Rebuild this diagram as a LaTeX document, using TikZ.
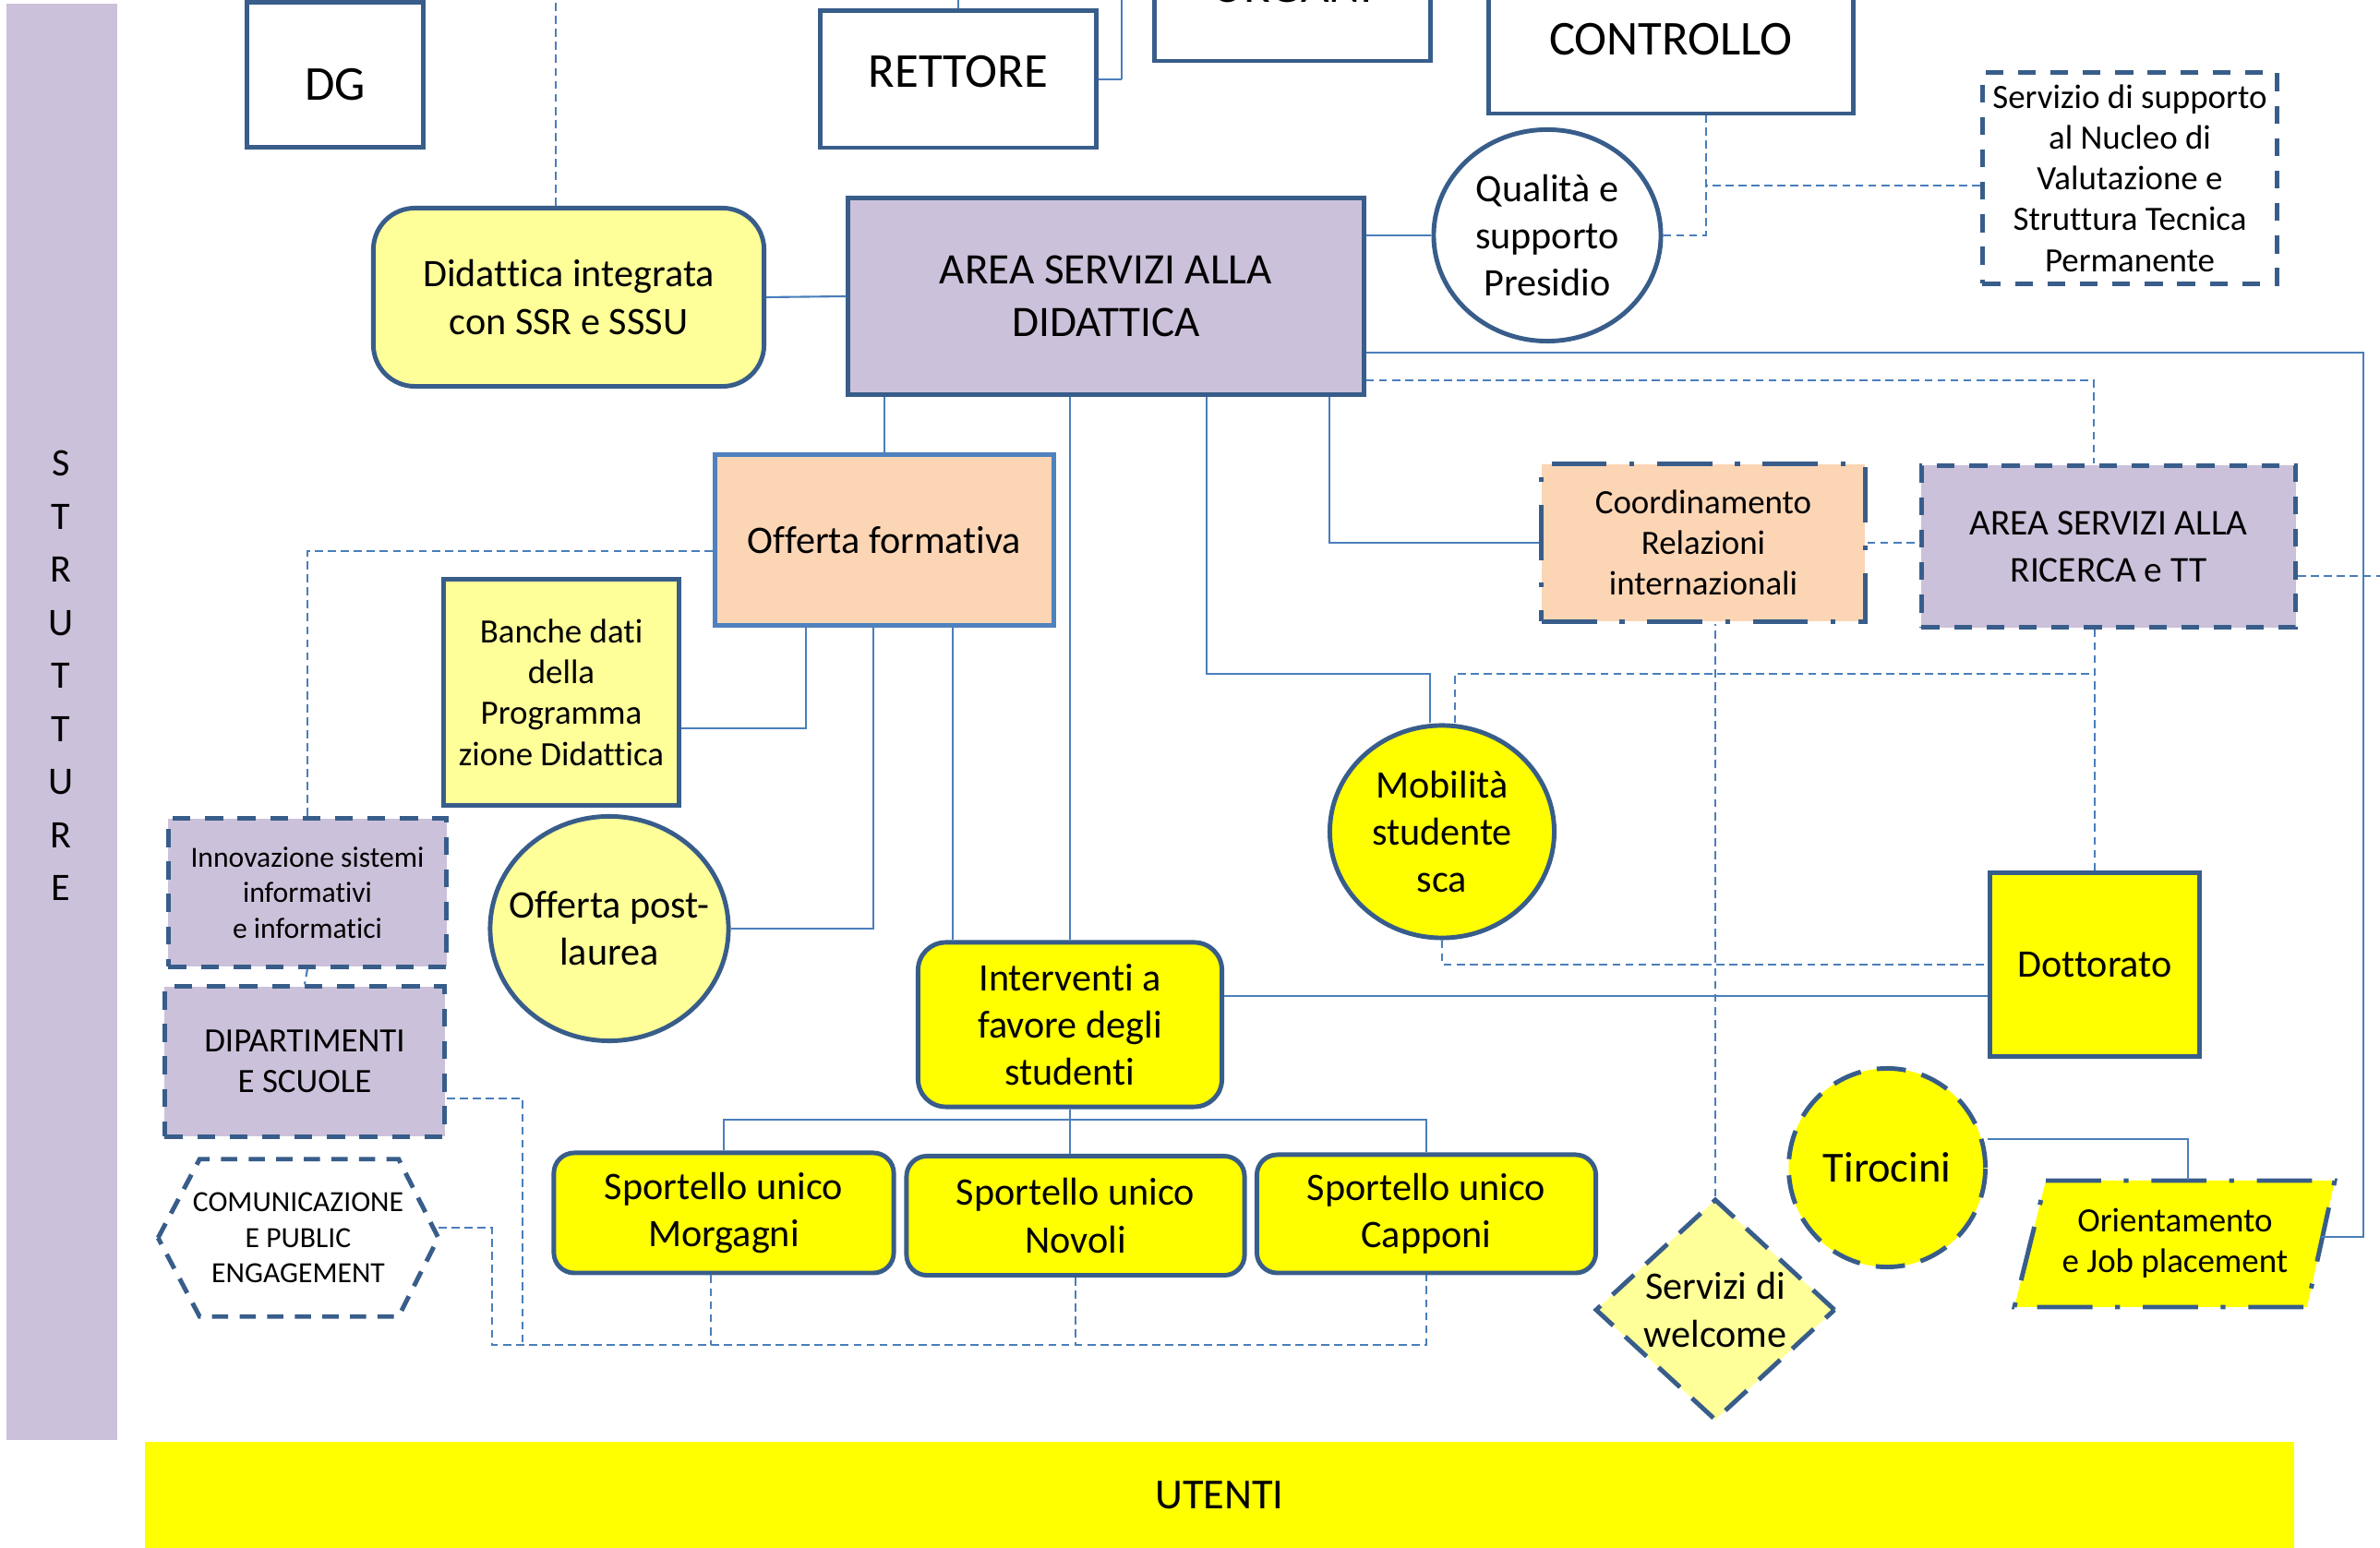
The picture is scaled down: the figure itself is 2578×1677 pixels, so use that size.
\documentclass[tikz,border=0pt]{standalone}
\usepackage{fontspec}
\setmainfont{Carlito}[Ligatures=NoCommon]
\usepackage{xcolor}
\usepackage{tikz}
\usetikzlibrary{shapes.geometric}

\definecolor{BorderBlue}{RGB}{56,93,138}
\definecolor{LinkBlue}{RGB}{74,126,187}
\definecolor{LightBlue}{RGB}{79,129,189}
\definecolor{Lavender}{RGB}{204,193,218}
\definecolor{Peach}{RGB}{252,213,181}
\definecolor{PaleYellow}{RGB}{255,255,153}
\definecolor{FullYellow}{RGB}{255,255,0}

\begin{document}
\begin{tikzpicture}[x=0.01cm,y=-0.01cm]
                \tikzset{Box/.style={%
                    shape=rectangle,%
                    draw=BorderBlue,%
                    line width=1.4pt,%
                    inner sep=0pt,%
                    align=center,%
                }}
                \tikzset{RoundBox/.style={Box, rounded corners=0.3cm}}
                \tikzset{Oval/.style={Box, shape=ellipse}}
                \tikzset{DashBox/.style={Box, dash pattern=on 5.5pt off 4.5pt}}
                \tikzset{DotDashBox/.style={Box, dash pattern=on 17pt off 7pt on 1.5pt off 7pt}}
                \tikzset{LongDash/.style={dash pattern=on 9pt off 5pt}}
                \tikzset{Link/.style={draw=LinkBlue, line width=0.6pt}}
                \tikzset{DashLink/.style={Link, dash pattern=on 2.5pt off 1.5pt}}
                \tikzset{TopFont/.style={font=\fontsize{15}{18}\selectfont}}
                \tikzset{AreaFont/.style={font=\fontsize{13.4}{16.4}\selectfont}}
                \tikzset{MainFont/.style={font=\fontsize{12}{14.6}\selectfont}}
                \tikzset{MidFont/.style={font=\fontsize{11.2}{14.5}\selectfont}}
                \tikzset{SmallFont/.style={font=\fontsize{10.5}{12.6}\selectfont}}
                \tikzset{TinyFont/.style={font=\fontsize{9}{11}\selectfont}}

                \useasboundingbox (0,0) rectangle (2578,1677);
                \clip (0,0) rectangle (2578,1677);

                % bande laterali
                \node[fill=Lavender, inner sep=0pt, minimum width=1.2cm, minimum height=15.55cm] (strutture) at (67,782) {};
                \node[align=center, inner sep=0pt, font=\fontsize{12}{16.35}\selectfont] (strutturelbl) at (66,732) {S\\T\\R\\U\\T\\T\\U\\R\\E};
                \node[fill=FullYellow, inner sep=0pt, minimum width=23.26cm, minimum height=1.16cm, font=\fontsize{13.2}{16}\selectfont] (utenti) at (1321,1620) {UTENTI};

                % organi di vertice
                \node[Box, fill=white, TopFont, minimum width=1.91cm, minimum height=1.57cm] (dg) at (363,81) {\raisebox{-0.27cm}[0pt][0pt]{DG}};
                \node[Box, fill=white, TopFont, minimum width=2.98cm, minimum height=1.48cm] (rettore) at (1038,86) {\raisebox{-0.09cm}[0pt][0pt]{RETTORE}};
                \node[Box, fill=white, TopFont, minimum width=2.98cm, minimum height=1.6cm] (organi) at (1400,-14) {ORGANI};
                \node[Box, fill=white, TopFont, minimum width=3.94cm, minimum height=1.6cm] (controllo) at (1810,43) {CONTROLLO};
                \node[Oval, fill=white, MainFont, minimum width=2.46cm, minimum height=2.29cm] (qualita) at (1676,255) {Qualità e\\supporto\\Presidio};
                \node[DashBox, fill=white, SmallFont, minimum width=3.19cm, minimum height=2.28cm] (nucleo) at (2307,193) {Servizio di supporto\\al Nucleo di\\Valutazione e\\Struttura Tecnica\\Permanente};

                % area didattica
                \node[RoundBox, rounded corners=0.45cm, fill=PaleYellow, MainFont, minimum width=4.23cm, minimum height=1.93cm] (didint) at (616,322) {Didattica integrata\\con SSR e SSSU};
                \node[Box, fill=Lavender, AreaFont, minimum width=5.58cm, minimum height=2.13cm] (area) at (1198,321) {AREA SERVIZI ALLA\\DIDATTICA};
                \node[Box, draw=LightBlue, fill=Peach, MainFont, minimum width=3.67cm, minimum height=1.84cm] (offerta) at (958,585) {Offerta formativa};
                \node[Box, fill=PaleYellow, SmallFont, minimum width=2.54cm, minimum height=2.45cm] (banche) at (608,750) {Banche dati\\della\\Programma\\zione Didattica};
                \node[DashBox, fill=Lavender, TinyFont, minimum width=3.01cm, minimum height=1.6cm] (innov) at (333,967) {Innovazione sistemi\\informativi\\e informatici};
                \node[Oval, fill=PaleYellow, MainFont, inner xsep=-0.35cm, minimum width=2.58cm, minimum height=2.43cm] (postlaurea) at (660,1006) {Offerta post-\\laurea};
                \node[DashBox, fill=Lavender, SmallFont, minimum width=3.03cm, minimum height=1.62cm] (dip) at (330,1150) {DIPARTIMENTI\\E SCUOLE};
                \node[TinyFont, align=center, inner sep=0pt, minimum width=3.02cm, minimum height=1.69cm] (comunic) at (323,1341) {COMUNICAZIONE\\E PUBLIC\\ENGAGEMENT};
                \draw[BorderBlue, line width=1.4pt, dash pattern=on 5pt off 3.5pt] (comunic.west) -- ([xshift=0.45cm]comunic.north west) -- ([xshift=-0.43cm]comunic.north east) -- (comunic.east) -- ([xshift=-0.43cm]comunic.south east) -- ([xshift=0.45cm]comunic.south west) -- cycle;

                % studenti
                \node[RoundBox, fill=FullYellow, MainFont, minimum width=3.29cm, minimum height=1.78cm] (interv) at (1159,1110) {Interventi a\\favore degli\\studenti};
                \node[RoundBox, rounded corners=0.22cm, fill=FullYellow, MainFont, minimum width=3.68cm, minimum height=1.3cm] (morgagni) at (784,1314) {Sportello unico\\Morgagni};
                \node[RoundBox, rounded corners=0.22cm, fill=FullYellow, MainFont, minimum width=3.66cm, minimum height=1.29cm] (novoli) at (1165,1317) {Sportello unico\\Novoli};
                \node[RoundBox, rounded corners=0.22cm, fill=FullYellow, MainFont, minimum width=3.67cm, minimum height=1.28cm] (capponi) at (1545,1315) {Sportello unico\\Capponi};

                % relazioni e ricerca
                \node[DotDashBox, fill=Peach, SmallFont, minimum width=3.5cm, minimum height=1.7cm] (coord) at (1845,588) {Coordinamento\\Relazioni\\internazionali};
                \node[DashBox, fill=Lavender, MidFont, minimum width=4.05cm, minimum height=1.75cm] (ricerca) at (2284,592) {AREA SERVIZI ALLA\\RICERCA e TT};
                \node[Oval, fill=FullYellow, MainFont, minimum width=2.43cm, minimum height=2.3cm] (mobilita) at (1562,901) {Mobilità\\studente\\sca};
                \node[Box, fill=FullYellow, MainFont, minimum width=2.27cm, minimum height=1.98cm] (dottorato) at (2269,1045) {Dottorato};
                \node[Oval, LongDash, fill=FullYellow, font=\fontsize{13.2}{16}\selectfont, minimum width=2.13cm, minimum height=2.15cm] (tirocini) at (2044,1265) {Tirocini};
                \node[Box, shape=diamond, LongDash, aspect=1.08, fill=PaleYellow, MainFont, minimum width=2.6cm, minimum height=2.4cm] (welcome) at (1858,1419) {Servizi di\\welcome};
                \filldraw[fill=FullYellow, draw=BorderBlue, line width=1.4pt, dash pattern=on 17pt off 7pt on 1.5pt off 7pt] (2216,1279) -- (2529,1279) -- (2499,1416) -- (2182,1416) -- cycle;
                \node[SmallFont, align=center, inner sep=0pt, minimum width=3.15cm, minimum height=1.37cm] (orient) at (2356,1347) {Orientamento\\e Job placement};

                % collegamenti continui
                \path[Link] (rettore.north) edge (rettore.north |- 0,0);
                \path[Link] (rettore.east) edge (1215,86) (1215,86) edge (1215,0);
                \path[Link] (didint.east) edge (area.west);
                \path[Link] (area.east |- qualita.west) edge (qualita.west);
                \draw[Link] (area.east |- 0,382) -| (2560,1340) -- (orient.east |- 0,1340);
                \path[Link] (offerta.north) edge (offerta.north |- area.south);
                \path[Link] (interv.north) edge (interv.north |- area.south);
                \draw[Link] (area.south -| 1307,0) |- (1549,730) -- (mobilita.north -| 1549,0);
                \draw[Link] (area.south -| 1440,0) |- (coord.west);
                \draw[Link] (offerta.south -| 873,0) |- ([yshift=-0.39cm]banche.east);
                \draw[Link] (offerta.south -| 946,0) |- (postlaurea.east);
                \path[Link] (offerta.south -| 1032,0) edge (interv.north -| 1032,0);
                \path[Link] ([yshift=0.31cm]interv.east) edge ([yshift=0.31cm]interv.east -| dottorato.west);
                \path[Link] (interv.south) edge (interv.south |- novoli.north);
                \draw[Link] (morgagni.north) |- (interv.south |- 0,1213) -| (capponi.north);
                \draw[Link] ([yshift=0.31cm]tirocini.east) -| ([xshift=0.14cm]orient.north);

                % collegamenti tratteggiati
                \path[DashLink] ([xshift=-0.14cm]didint.north) edge ([xshift=-0.14cm]didint.north |- 0,0);
                \draw[DashLink] (qualita.east) -| ([xshift=0.38cm]controllo.south);
                \draw[DashLink] (nucleo.west |- 0,201) -- (1848,201);
                \draw[DashLink] (area.east |- 0,412) -| ([xshift=-0.16cm]ricerca.north);
                \path[DashLink] (coord.east) edge (coord.east -| ricerca.west);
                \path[DashLink] ([yshift=-0.32cm]ricerca.east) edge ++(120,0);
                \draw[DashLink] ([yshift=-0.12cm]offerta.west) -| (innov.north);
                \path[DashLink] (innov.south) edge (dip.north);
                \draw[DashLink] ([yshift=-0.4cm]dip.east) -| (566,1457);
                \draw[DashLink] ([yshift=0.11cm]comunic.east) -| (533,1457) -- (capponi.south |- 0,1457) -- (capponi.south);
                \path[DashLink] ([xshift=-0.14cm]morgagni.south) edge ([xshift=-0.14cm]morgagni.south |- 0,1457);
                \path[DashLink] (novoli.south) edge (novoli.south |- 0,1457);
                \path[DashLink] (welcome.north) edge (welcome.north |- coord.south);
                \path[DashLink] (dottorato.north) edge (dottorato.north |- ricerca.south);
                \draw[DashLink] (mobilita.north -| 1576,0) |- (dottorato.north |- 0,730);
                \draw[DashLink] (mobilita.south) |- (dottorato.west);
            \end{tikzpicture}
\end{document}
